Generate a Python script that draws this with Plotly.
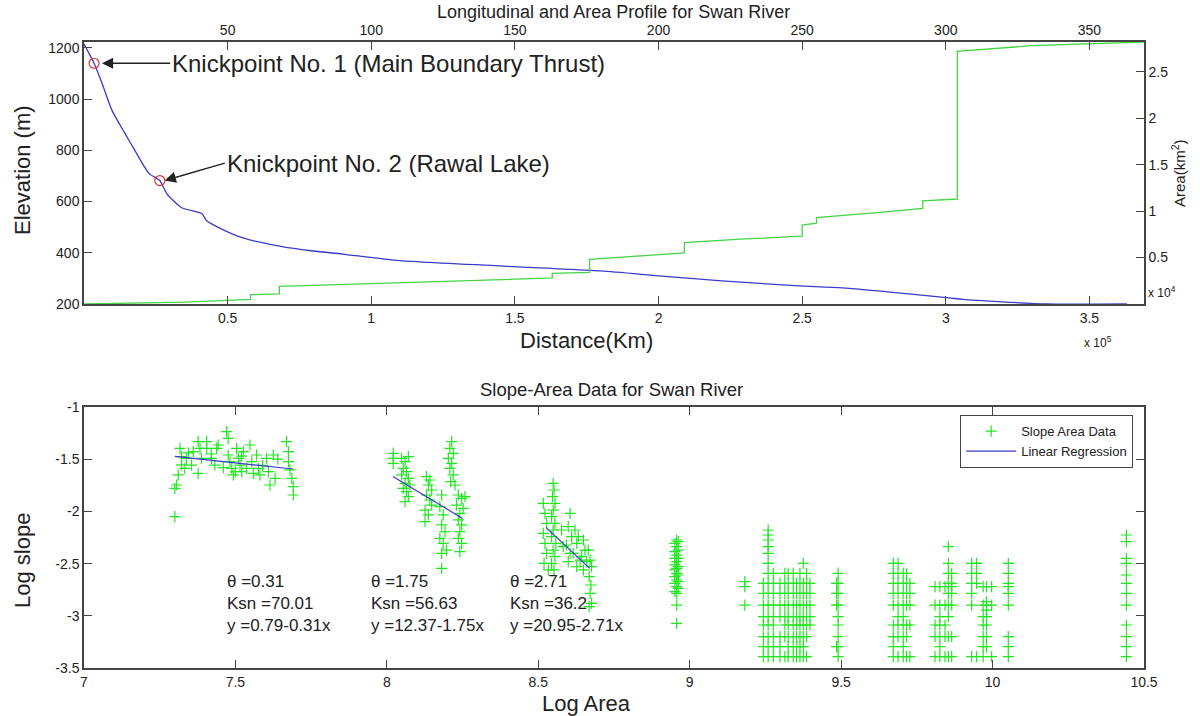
import plotly.graph_objects as go

# ---------------- Top panel data ----------------
# distance in units of 1e5 m, elevation in m
elev_dist = [0.0, 0.035, 0.0625, 0.097, 0.142, 0.177, 0.226, 0.264, 0.288, 0.34, 0.41, 0.427,
             0.462, 0.55, 0.69, 0.79, 0.90, 1.10, 1.57, 1.80, 2.00, 2.22, 2.49, 2.64, 3.01,
             3.06, 3.35, 3.63]
elev_m = [1215, 1140, 1063, 957, 867, 800, 710, 682, 631, 576, 553, 525,
          502, 459, 424, 408, 395, 369, 342, 329, 310, 290, 271, 263, 224,
          218, 200, 200]

# drainage area in units of 1e4 km^2
area_dist = [0.00, 0.35, 0.58, 0.58, 0.68, 0.68, 1.00, 1.30, 1.63, 1.63, 1.76, 1.76, 2.09,
             2.09, 2.30, 2.50, 2.50, 2.55, 2.55, 2.75, 2.92, 2.92, 3.04, 3.04, 3.30, 3.69]
area_val = [0.00, 0.02, 0.05, 0.10, 0.11, 0.19, 0.22, 0.25, 0.28, 0.33, 0.34, 0.48, 0.55,
            0.66, 0.70, 0.73, 0.85, 0.87, 0.93, 0.98, 1.03, 1.11, 1.13, 2.72, 2.78, 2.82]

knick_dist = [0.035, 0.264]
knick_elev = [1140, 682]
knick_labels = ["Knickpoint No. 1 (Main Boundary Thrust)", "Knickpoint No. 2 (Rawal Lake)"]

bottom_ticks = [0.5, 1, 1.5, 2, 2.5, 3, 3.5]
top_ticks = [50, 100, 150, 200, 250, 300, 350]
elev_ticks = [200, 400, 600, 800, 1000, 1200]
area_ticks = [0.5, 1, 1.5, 2, 2.5]
area_ticktext = ["0.5", "1", "1.5", "2", "2.5"]

# ---------------- Bottom panel data ----------------
c1_x = [7.300, 7.300, 7.306, 7.311, 7.317, 7.322, 7.322, 7.333, 7.339, 7.355, 7.361, 7.377,
        7.377, 7.383, 7.388, 7.405, 7.405, 7.421, 7.432, 7.438, 7.443, 7.471, 7.476, 7.476,
        7.482, 7.488, 7.493, 7.504, 7.510, 7.515, 7.521, 7.526, 7.537, 7.548, 7.554, 7.559,
        7.570, 7.576, 7.581, 7.603, 7.609, 7.614, 7.625, 7.631, 7.669, 7.675, 7.675, 7.680,
        7.686, 7.691, 7.691, 7.345, 7.46, 7.50, 7.59, 7.64, 7.52, 7.42]
c1_y = [-2.050, -1.779, -1.747, -1.651, -1.396, -1.555, -1.476, -1.587, -1.492, -1.556, -1.428,
        -1.332, -1.635, -1.396, -1.492, -1.332, -1.396, -1.492, -1.556, -1.396, -1.364, -1.236,
        -1.300, -1.460, -1.524, -1.587, -1.651, -1.396, -1.492, -1.556, -1.619, -1.428, -1.587,
        -1.364, -1.524, -1.635, -1.460, -1.587, -1.651, -1.492, -1.619, -1.747, -1.460, -1.683,
        -1.332, -1.428, -1.524, -1.603, -1.683, -1.763, -1.843, -1.44, -1.58, -1.62, -1.56,
        -1.50, -1.47, -1.45]

c2_x = [8.021, 8.021, 8.021, 8.049, 8.060, 8.071, 8.054, 8.065, 8.049, 8.071, 8.060, 8.054,
        8.065, 8.071, 8.060, 8.076, 8.131, 8.142, 8.137, 8.148, 8.131, 8.142, 8.126, 8.137,
        8.126, 8.148, 8.181, 8.175, 8.186, 8.181, 8.192, 8.175, 8.186, 8.197, 8.181, 8.181,
        8.214, 8.208, 8.219, 8.203, 8.214, 8.208, 8.219, 8.211, 8.225, 8.236, 8.247, 8.230,
        8.252, 8.241, 8.236, 8.247, 8.241, 8.236, 8.247, 8.241, 8.258]
c2_y = [-1.444, -1.492, -1.540, -1.492, -1.524, -1.476, -1.587, -1.619, -1.651, -1.683, -1.731,
        -1.779, -1.811, -1.859, -1.907, -1.747, -1.667, -1.699, -1.747, -1.795, -1.843, -1.891,
        -1.987, -2.034, -2.098, -1.939, -1.843, -1.955, -2.034, -2.130, -2.194, -2.258, -2.306,
        -2.370, -2.402, -2.545, -1.332, -1.396, -1.444, -1.492, -1.540, -1.587, -1.651, -1.715,
        -1.747, -1.843, -1.875, -1.939, -1.971, -2.018, -2.082, -2.130, -2.194, -2.258, -2.306,
        -2.386, -1.859]

c3_x = [8.5165, 8.522, 8.5275, 8.5165, 8.522, 8.5275, 8.519, 8.533, 8.549, 8.552, 8.547,
        8.555, 8.549, 8.544, 8.555, 8.549, 8.544, 8.558, 8.549, 8.555, 8.544, 8.552, 8.577,
        8.582, 8.605, 8.599, 8.610, 8.593, 8.605, 8.599, 8.621, 8.632, 8.627, 8.615, 8.638,
        8.627, 8.649, 8.654, 8.643, 8.660, 8.649, 8.665, 8.671, 8.676, 8.668, 8.674, 8.671,
        8.676, 8.668]
c3_y = [-1.923, -2.018, -2.114, -2.210, -2.306, -2.402, -2.497, -2.561, -1.731, -1.795, -1.859,
        -1.923, -1.987, -2.050, -2.114, -2.178, -2.242, -2.306, -2.370, -2.434, -2.497, -2.561,
        -2.178, -2.338, -2.018, -2.146, -2.242, -2.322, -2.402, -2.481, -2.178, -2.242, -2.306,
        -2.402, -2.466, -2.529, -2.274, -2.370, -2.434, -2.481, -2.561, -2.370, -2.466, -2.529,
        -2.625, -2.705, -2.785, -2.881, -2.913]

# quantised slope columns further downstream: (log area, [log slope values])
c4_cols = [
    (8.957, [-2.274, -2.338, -2.418, -2.481, -2.545, -2.593, -2.657, -2.721, -2.785, -2.897, -3.072]),
    (8.951, [-2.306, -2.386, -2.450, -2.513, -2.561, -2.625, -2.689, -2.769]),
    (8.962, [-2.290, -2.370, -2.450, -2.529, -2.609, -2.673, -2.737]),
    (9.182, [-2.673, -2.721, -2.897]),
    (9.243, [-2.689, -2.785, -2.897, -3.008, -3.088, -3.200, -3.296, -3.391]),
    (9.259, [-2.178, -2.226, -2.274, -2.338, -2.402, -2.497, -2.593, -2.689, -2.785, -2.897,
             -3.008, -3.088, -3.200, -3.296, -3.391]),
    (9.276, [-2.593, -2.689, -2.785, -2.897, -3.008, -3.088, -3.200, -3.296, -3.391]),
    (9.298, [-2.689, -2.785, -2.897, -3.008, -3.200, -3.296, -3.391]),
    (9.314, [-2.593, -2.689, -2.785, -2.897, -3.008, -3.088, -3.200, -3.391]),
    (9.325, [-2.593, -2.689, -2.785, -2.897, -3.008, -3.088, -3.200, -3.296, -3.391]),
    (9.342, [-2.593, -2.689, -2.785, -2.897, -3.008, -3.088, -3.200, -3.296, -3.391]),
    (9.353, [-2.689, -2.785, -2.897, -3.008, -3.088, -3.200, -3.296, -3.391]),
    (9.364, [-2.593, -2.689, -2.785, -2.897, -3.008, -3.088, -3.200, -3.296, -3.391]),
    (9.375, [-2.497, -2.689, -2.785, -2.897, -3.008, -3.088, -3.200, -3.296, -3.391]),
    (9.386, [-2.593, -2.689, -2.785, -2.897, -3.008, -3.088, -3.200, -3.391]),
    (9.397, [-2.689, -2.785, -2.897, -3.008, -3.088]),
    (9.490, [-2.593, -2.689, -2.785, -2.897, -3.008, -3.088, -3.200, -3.296, -3.391]),
    (9.485, [-2.689, -2.785, -2.897, -3.296]),
    (9.672, [-2.497, -2.593, -2.689, -2.785, -2.897, -3.088, -3.200, -3.296, -3.391]),
    (9.688, [-2.497, -2.593, -2.689, -2.785, -2.897, -3.008, -3.088, -3.200, -3.391]),
    (9.705, [-2.593, -2.689, -2.785, -2.897, -3.008, -3.088, -3.200, -3.296, -3.391]),
    (9.716, [-2.593, -2.689, -2.785, -2.897, -3.088, -3.200, -3.391]),
    (9.727, [-2.689, -2.785, -2.897, -3.088, -3.391]),
    (9.810, [-2.721, -2.897, -3.088, -3.200, -3.391]),
    (9.826, [-2.721, -2.897, -3.008, -3.088, -3.200, -3.296, -3.391]),
    (9.843, [-2.721, -2.897, -3.088, -3.200, -3.391]),
    (9.854, [-2.338, -2.497, -2.593, -2.689, -2.785, -2.897, -3.008, -3.200, -3.391]),
    (9.865, [-2.593, -2.689, -2.721, -2.785, -2.897, -3.200, -3.391]),
    (9.931, [-2.497, -2.593, -2.689, -2.785, -2.897, -3.391]),
    (9.947, [-2.497, -2.593, -2.689, -3.391]),
    (9.969, [-2.721, -2.897, -3.008, -3.088, -3.200, -3.296, -3.391]),
    (9.980, [-2.721, -2.865, -2.897, -2.945, -3.008, -3.088, -3.200, -3.296]),
    (9.997, [-2.721, -2.897, -3.391]),
    (10.052, [-2.497, -2.593, -2.689, -2.721, -2.785, -2.897, -3.200, -3.296, -3.391]),
    (10.442, [-2.226, -2.290, -2.450, -2.497, -2.609, -2.689, -2.785, -2.897, -3.088, -3.200,
              -3.296, -3.391]),
]

# regression segments: (intercept, slope, x start, x end)
reg_intercepts = [0.79, 12.37, 20.95]
reg_slopes = [-0.31, -1.75, -2.71]
reg_x_start = [7.30, 8.02, 8.525]
reg_x_end = [7.69, 8.25, 8.67]

theta_vals = ["0.31", "1.75", "2.71"]
ksn_vals = ["70.01", "56.63", "36.2"]
eq_texts = ["0.79-0.31x", "12.37-1.75x", "20.95-2.71x"]
text_x = [7.466, 7.94, 8.40]

# ---------------- Build figure ----------------
FONT = "Liberation Sans, Arial, Helvetica, sans-serif"
AX = "#444444"
TXT = "#222222"
GREEN_PTS = "#22e622"
GREEN_LINE = "#44d444"
BLUE = "#3a3acc"

fig = go.Figure()

fig.add_trace(go.Scatter(x=area_dist, y=area_val, mode="lines", xaxis="x", yaxis="y2",
                         line=dict(color=GREEN_LINE, width=1.3), showlegend=False,
                         hoverinfo="skip"))
fig.add_trace(go.Scatter(x=elev_dist, y=elev_m, mode="lines", xaxis="x", yaxis="y",
                         line=dict(color=BLUE, width=1.3, shape="spline", smoothing=0.6),
                         showlegend=False))
fig.add_trace(go.Scatter(x=knick_dist, y=knick_elev, mode="markers", xaxis="x", yaxis="y",
                         marker=dict(symbol="circle-open", size=10,
                                     line=dict(color="#e03030", width=1.2),
                                     color="#e03030"),
                         showlegend=False))
# invisible trace so the top (km) axis is created
fig.add_trace(go.Scatter(x=[0, 369], y=[200, 200], mode="lines", xaxis="x2", yaxis="y",
                         line=dict(width=0), opacity=0, showlegend=False, hoverinfo="skip"))

# bottom scatter
all_x = c1_x + c2_x + c3_x
all_y = c1_y + c2_y + c3_y
for ax_val, col in c4_cols:
    all_x += [ax_val] * len(col)
    all_y += col
fig.add_trace(go.Scatter(x=all_x, y=all_y, mode="markers", xaxis="x3", yaxis="y3",
                         name="Slope Area Data",
                         marker=dict(symbol="cross-thin", size=8,
                                     line=dict(color=GREEN_PTS, width=1.2))))
rx, ry = [], []
for a, b, xs, xe in zip(reg_intercepts, reg_slopes, reg_x_start, reg_x_end):
    rx += [xs, xe, None]
    ry += [a + b * xs, a + b * xe, None]
fig.add_trace(go.Scatter(x=rx, y=ry, mode="lines", xaxis="x3", yaxis="y3",
                         name="Linear Regression", line=dict(color=BLUE, width=1.2)))

tickfont = dict(family=FONT, size=14, color=TXT)
common = dict(showline=True, linecolor=AX, linewidth=1.5, ticks="inside", ticklen=8,
              tickcolor=AX, tickwidth=1.2, showgrid=False, zeroline=False, tickfont=tickfont,
              automargin=False)

x_dom = [84 / 1200, 1144 / 1200]
top_dom = [1 - 304 / 716, 1 - 42 / 716]
bot_dom = [1 - 668 / 716, 1 - 407 / 716]

fig.update_layout(
    width=1200, height=716,
    margin=dict(l=0, r=0, t=0, b=0, autoexpand=False),
    paper_bgcolor="white", plot_bgcolor="white",
    font=dict(family=FONT, color=TXT),
    xaxis=dict(domain=x_dom, range=[0, 3.69], tickvals=bottom_ticks, anchor="y", **common),
    xaxis2=dict(overlaying="x", side="top", range=[0, 369], tickvals=top_ticks, anchor="y",
                **common),
    yaxis=dict(domain=top_dom, range=[200, 1223], tickvals=elev_ticks, anchor="x", **common),
    yaxis2=dict(overlaying="y", side="right", range=[0, 2.82], tickvals=area_ticks,
                ticktext=area_ticktext, anchor="x", **common),
    xaxis3=dict(domain=x_dom, range=[7, 10.5], tickvals=[7, 7.5, 8, 8.5, 9, 9.5, 10, 10.5],
                ticktext=["7", "7.5", "8", "8.5", "9", "9.5", "10", "10.5"],
                anchor="y3", mirror="ticks", **common),
    yaxis3=dict(domain=bot_dom, range=[-3.5, -1], tickvals=[-3.5, -3, -2.5, -2, -1.5, -1],
                ticktext=["-3.5", "-3", "-2.5", "-2", "-1.5", "-1"],
                anchor="x3", mirror="ticks", **common),
    legend=dict(x=960 / 1200, y=1 - 415 / 716, xanchor="left", yanchor="top",
                bordercolor=AX, borderwidth=1.2, bgcolor="white",
                font=dict(family=FONT, size=13, color=TXT), tracegroupgap=0,
                itemwidth=50),
    showlegend=True,
)

ann = []


def paper_text(text, px, py, size, xanchor="center", yanchor="middle", angle=0):
    ann.append(dict(text=text, x=px / 1200, y=1 - py / 716, xref="paper", yref="paper",
                    showarrow=False, xanchor=xanchor, yanchor=yanchor, textangle=angle,
                    font=dict(family=FONT, size=size, color=TXT)))


paper_text("Longitudinal and Area Profile for Swan River", 613, 12, 18)
paper_text("Slope-Area Data for Swan River", 611, 390, 18.5)
paper_text("Elevation (m)", 22, 170, 22, angle=-90)
paper_text("Distance(Km)", 586, 340, 22)
paper_text("Area(km<sup>2</sup>)", 1178, 173, 15, angle=-90)
paper_text("x 10<sup>4</sup>", 1146, 292, 12, xanchor="left")
paper_text("x 10<sup>5</sup>", 1082, 342, 12, xanchor="left")
paper_text("Log slope", 22, 561, 22, angle=-90)
paper_text("Log Area", 586, 703, 22)

# knickpoint arrows with their labels at the arrow tails
arrow_heads_x = [0.0625, 0.281]
arrow_heads_y = [1140, 682]
arrow_tails_x = [0.30, 0.49]
arrow_tails_y = [1140, 750]
for i in range(2):
    ann.append(dict(x=arrow_heads_x[i], y=arrow_heads_y[i], xref="x", yref="y",
                    ax=arrow_tails_x[i], ay=arrow_tails_y[i], axref="x", ayref="y",
                    text=knick_labels[i], xanchor="left", yanchor="middle",
                    showarrow=True, arrowhead=2, arrowsize=1.6, arrowwidth=1.4,
                    arrowcolor="#222222", standoff=0, startstandoff=0,
                    font=dict(family=FONT, size=24, color=TXT)))

# slope-area statistics
for i in range(3):
    txt = ("θ =" + theta_vals[i] + "<br>Ksn =" + ksn_vals[i] + "<br>y =" + eq_texts[i])
    ann.append(dict(text=txt, x=text_x[i], y=-2.56, xref="x3", yref="y3", showarrow=False,
                    xanchor="left", yanchor="top", align="left",
                    font=dict(family=FONT, size=17, color=TXT)))

fig.update_layout(annotations=ann)
fig.write_html("out.html", config={"displayModeBar": False},
               post_script="document.body.style.margin='0';document.body.style.padding='0';")
